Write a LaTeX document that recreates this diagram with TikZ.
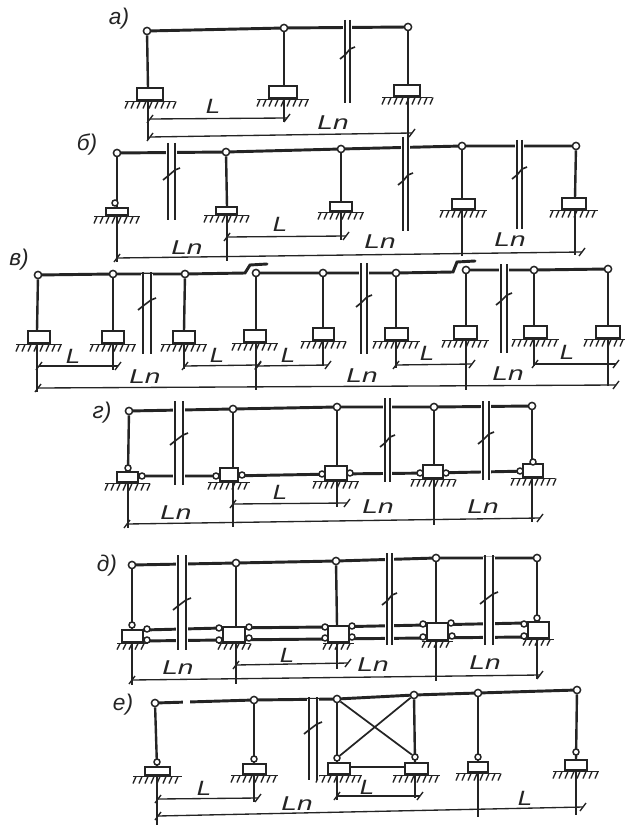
\documentclass[tikz,border=0pt]{standalone}
\usepackage{fontspec}
\setmainfont{Liberation Sans}
\definecolor{ink}{gray}{0.14}
\tikzset{
  hinge/.style={circle,draw=ink,fill=white,line width=1.1pt,inner sep=0pt,minimum size=5.4pt},
  beam/.style={draw=ink,line width=2.2pt,line cap=round},
  column/.style={draw=ink,line width=1.8pt},
  block/.style={draw=ink,fill=white,line width=1.7pt},
  groundline/.style={draw=ink,line width=1.4pt},
  hatchline/.style={draw=ink,line width=1pt},
  dimline/.style={draw=ink,line width=1pt},
  breakline/.style={draw=ink,line width=1.25pt},
  lab/.style={text=ink,font=\itshape\fontsize{15.5}{15.5}\selectfont,inner sep=0pt,xscale=1.25},
  labn/.style={text=ink,font=\itshape\fontsize{15}{15}\selectfont,inner sep=0pt,xscale=1.4},
  lett/.style={text=ink,font=\itshape\fontsize{17}{17}\selectfont,inner sep=0pt},
}
\def\gover{12}
\def\hlen{7}
% name, top x, top y, base x, block left, block right, block top, block bottom
\newcommand{\stand}[8]{%
  \node[hinge] (#1) at (#2,#3) {};
  \coordinate (#1b) at (#4,#7);
  \coordinate (#1g) at (#4,#8+1.5);
  \draw[column] (#1) -- (#1b);
  \draw[block] (#5,#8) rectangle (#6,#7);
  \draw[block] (#5,#7) -- (#6,#7);
  \draw[groundline] (#5-\gover,#8+1.5) -- (#6+\gover,#8+1.5);
  \pgfmathsetmacro{\hstart}{#5-\gover+3}
  \pgfmathsetmacro{\hnext}{#5-\gover+9}
  \pgfmathsetmacro{\hend}{#6+\gover+1}
  \foreach \hx in {\hstart,\hnext,...,\hend} {\draw[hatchline] (\hx,#8+1.5) -- (\hx-3,#8+1.5+\hlen);}
}
% name, x, y
\newcommand{\smallhinge}[3]{\node[hinge,minimum size=4.5pt] (#1) at (#2,#3) {};}
% left x, right x, top, bottom, zig y
\newcommand{\cutmark}[5]{%
  \fill[white] (#1-2,#3+2) rectangle (#2+2,#4-1);
  \draw[breakline] (#1,#3) -- (#1,#4);
  \draw[breakline] (#2,#3) -- (#2,#4);
  \fill[white] (#1+.7,#5-3) rectangle (#2-.7,#5+3);
  \draw[breakline] (#2+5,#5-5) -- (#2,#5-3) -- (#1,#5+3) -- (#1-5,#5+7);
}
% name, x1, y1, x2, y2
\newcommand{\dimspan}[5]{%
  \coordinate (#1s) at (#2,#3);
  \coordinate (#1e) at (#4,#5);
  \draw[dimline] (#1s) -- (#1e);
  \draw[dimline] (#2+3,#3-4) -- (#2-3,#3+4);
  \draw[dimline] (#4+3,#5-4) -- (#4-3,#5+4);
}
\newcommand{\extline}[2]{\draw[dimline] (#1g) -- (#1g |- 0,#2);}
\begin{document}
\begin{tikzpicture}[x=0.75pt,y=-0.75pt]
\useasboundingbox (0,0) rectangle (624,827);
\fill[white] (0,0) rectangle (624,827);

% ---- a
\node[lett] (la) at (119,19) {а)};
\draw[beam] (147,31) -- (284,28) -- (408,27);
\stand{a1}{147}{31}{148}{137}{163}{88}{100}
\stand{a2}{284}{28}{284}{269}{297}{86}{98}
\stand{a3}{408}{27}{408}{394}{420}{85}{96}
\cutmark{345}{350}{20}{103}{52}
\extline{a1}{140}\extline{a2}{122}\extline{a3}{137}
\dimspan{da1}{150}{119}{287}{118}
\dimspan{da2}{150}{137}{412}{133}
\node[lab] (la1) at (213,106) {L};
\node[labn] (la2) at (333,123) {Ln};

% ---- b
\node[lett] (lb) at (87,145) {б)};
\draw[beam] (117,153) -- (226,152) -- (341,149) -- (462,146) -- (576,146);
\stand{b1}{117}{153}{117}{106}{128}{208}{215}
\smallhinge{b1h}{115}{203}
\stand{b2}{226}{152}{227}{216}{237}{207}{214}
\stand{b3}{341}{149}{341}{330}{352}{202}{211}
\stand{b4}{462}{146}{462}{452}{475}{199}{209}
\stand{b5}{576}{146}{575}{562}{586}{198}{209}
\cutmark{168}{175}{143}{220}{173}
\cutmark{403}{408}{137}{231}{178}
\cutmark{517}{522}{140}{229}{172}
\extline{b1}{262}\extline{b2}{261}\extline{b3}{240}\extline{b4}{256}\extline{b5}{255}
\dimspan{db1}{227}{237}{346}{236}
\dimspan{db2}{117}{258}{582}{252}
\node[lab] (lb1) at (280,224) {L};
\node[labn] (lb2) at (187,248) {Ln};
\node[labn] (lb3) at (380,242) {Ln};
\node[labn] (lb4) at (510,240) {Ln};

% ---- c
\node[lett] (lc) at (19,260) {в)};
\draw[beam] (38,275) -- (113,274) -- (185,274) -- (245,273) -- (250,265) -- (267,264);
\draw[beam] (256,273) -- (323,273) -- (396,273) -- (453,272) -- (457,262) -- (475,261);
\draw[beam] (466,270) -- (534,270) -- (608,269);
\stand{c1}{38}{275}{37}{28}{50}{331}{343}
\stand{c2}{113}{274}{113}{102}{124}{331}{343}
\stand{c3}{185}{274}{184}{173}{195}{331}{343}
\stand{c4}{256}{273}{256}{244}{266}{330}{342}
\stand{c5}{323}{273}{323}{313}{334}{328}{340}
\stand{c6}{396}{273}{396}{385}{408}{328}{340}
\stand{c7}{466}{270}{466}{454}{477}{326}{339}
\stand{c8}{534}{270}{534}{524}{547}{326}{338}
\stand{c9}{608}{269}{608}{596}{620}{326}{338}
\cutmark{143}{151}{272}{354}{303}
\cutmark{361}{367}{263}{354}{300}
\cutmark{501}{507}{264}{353}{298}
\extline{c1}{392}\extline{c2}{370}\extline{c3}{369}\extline{c4}{390}\extline{c5}{366}\extline{c6}{368}\extline{c7}{390}\extline{c8}{366}\extline{c9}{386}
\dimspan{dc1}{39}{366}{118}{366}
\dimspan{dc2}{185}{366}{258}{365}
\dimspan{dc3}{258}{366}{328}{365}
\dimspan{dc4}{396}{365}{472}{364}
\dimspan{dc5}{535}{364}{616}{364}
\dimspan{dc6}{38}{388}{616}{385}
\node[lab] (lc1) at (73,356) {L};
\node[lab] (lc2) at (217,355) {L};
\node[lab] (lc3) at (288,355) {L};
\node[lab] (lc4) at (427,353) {L};
\node[lab] (lc5) at (567,352) {L};
\node[labn] (lc6) at (145,377) {Ln};
\node[labn] (lc7) at (362,376) {Ln};
\node[labn] (lc8) at (508,374) {Ln};

% ---- d
\node[lett] (ld) at (102,413) {г)};
\draw[beam] (129,411) -- (233,409) -- (337,407) -- (434,407) -- (532,406);
\draw[beam] (127,476) -- (228,476) -- (335,474) -- (432,473) -- (530,471);
\stand{d1}{129}{411}{128}{117}{138}{472}{482}
\stand{d2}{233}{409}{233}{220}{238}{468}{481}
\stand{d3}{337}{407}{337}{325}{347}{466}{480}
\stand{d4}{434}{407}{434}{423}{443}{465}{478}
\stand{d5}{532}{406}{532}{523}{543}{464}{477}
\smallhinge{d1h}{128}{468}\smallhinge{d1s}{142}{476}
\smallhinge{d2a}{216}{476}\smallhinge{d2c}{242}{475}
\smallhinge{d3a}{322}{474}\smallhinge{d3c}{350}{473}
\smallhinge{d4a}{420}{473}\smallhinge{d4c}{446}{473}
\smallhinge{d5a}{520}{471}\smallhinge{d5h}{533}{462}
\cutmark{175}{183}{401}{485}{438}
\cutmark{385}{390}{398}{482}{440}
\cutmark{483}{489}{401}{480}{437}
\extline{d1}{528}\extline{d2}{527}\extline{d3}{507}\extline{d4}{525}\extline{d5}{522}
\dimspan{dd1}{233}{504}{347}{503}
\dimspan{dd2}{127}{524}{540}{518}
\node[lab] (ld1) at (280,492) {L};
\node[labn] (ld2) at (176,513) {Ln};
\node[labn] (ld3) at (378,507) {Ln};
\node[labn] (ld4) at (483,507) {Ln};

% ---- e
\node[lett] (le) at (107,566) {д)};
\draw[beam] (132,565) -- (236,563) -- (336,561) -- (436,558) -- (537,558);
\draw[beam] (143,630) -- (222,628) -- (328,627) -- (426,625) -- (525,623);
\draw[beam] (143,641) -- (222,640) -- (328,639) -- (426,638) -- (525,637);
\def\gover{5}\def\hlen{6}
\stand{e1}{132}{565}{132}{122}{143}{630}{642}
\stand{e2}{236}{563}{236}{223}{245}{627}{642}
\stand{e3}{336}{561}{337}{328}{349}{626}{642}
\stand{e4}{436}{558}{436}{427}{448}{623}{640}
\stand{e5}{537}{558}{537}{528}{549}{622}{638}
\foreach \nm/\hxa/\hya in {1/147/629,2/219/628,3/325/627,4/423/624,5/524/624,6/249/627,7/352/626,8/451/623,9/147/640,10/219/640,11/325/638,12/423/637,13/249/638,14/352/637,15/452/636,16/524/636}{
  \smallhinge{eh\nm}{\hxa}{\hya}
}
\smallhinge{e1t}{132}{625}\smallhinge{e5t}{537}{618}
\def\gover{12}\def\hlen{7}
\cutmark{178}{186}{555}{650}{603}
\cutmark{387}{392}{553}{645}{598}
\cutmark{485}{493}{555}{645}{597}
\extline{e1}{685}\extline{e2}{684}\extline{e3}{669}\extline{e4}{681}\extline{e5}{679}
\dimspan{de1}{236}{665}{348}{663}
\dimspan{de2}{132}{680}{540}{675}
\node[lab] (le1) at (287,655) {L};
\node[labn] (le2) at (178,668) {Ln};
\node[labn] (le3) at (373,665) {Ln};
\node[labn] (le4) at (485,663) {Ln};

% ---- f
\node[lett] (lf) at (123,705) {е)};
\draw[beam] (155,703) -- (254,700) -- (337,699) -- (414,695) -- (478,693) -- (577,690);
\fill[white] (183,699) rectangle (190,707);
\stand{f1}{155}{703}{157}{145}{170}{767}{775}
\stand{f2}{254}{700}{254}{243}{266}{764}{774}
\stand{f3}{337}{699}{337}{328}{350}{763}{774}
\stand{f4}{414}{695}{415}{405}{428}{763}{774}
\stand{f5}{478}{693}{478}{468}{488}{762}{772}
\stand{f6}{577}{690}{576}{565}{587}{760}{770}
\smallhinge{f1h}{157}{762}\smallhinge{f2h}{254}{759}
\smallhinge{f3h}{337}{758}\smallhinge{f4h}{415}{757}
\smallhinge{f5h}{478}{757}\smallhinge{f6h}{576}{752}
\draw[column,line width=1.3pt] (f3) -- (f4h);
\draw[column,line width=1.3pt] (f4) -- (f3h);
\draw[column,line width=1.3pt] (350,767) -- (405,767);
\cutmark{309}{317}{697}{780}{727}
\extline{f1}{825}\extline{f2}{802}\extline{f3}{800}\extline{f4}{798}\extline{f5}{817}\extline{f6}{815}
\dimspan{df1}{158}{799}{258}{798}
\dimspan{df2}{337}{796}{420}{796}
\dimspan{df3}{158}{816}{583}{807}
\node[lab] (lf1) at (204,788) {L};
\node[labn] (lf2) at (297,804) {Ln};
\node[lab] (lf3) at (367,787) {L};
\node[lab] (lf4) at (525,798) {L};
\end{tikzpicture}
\end{document}
